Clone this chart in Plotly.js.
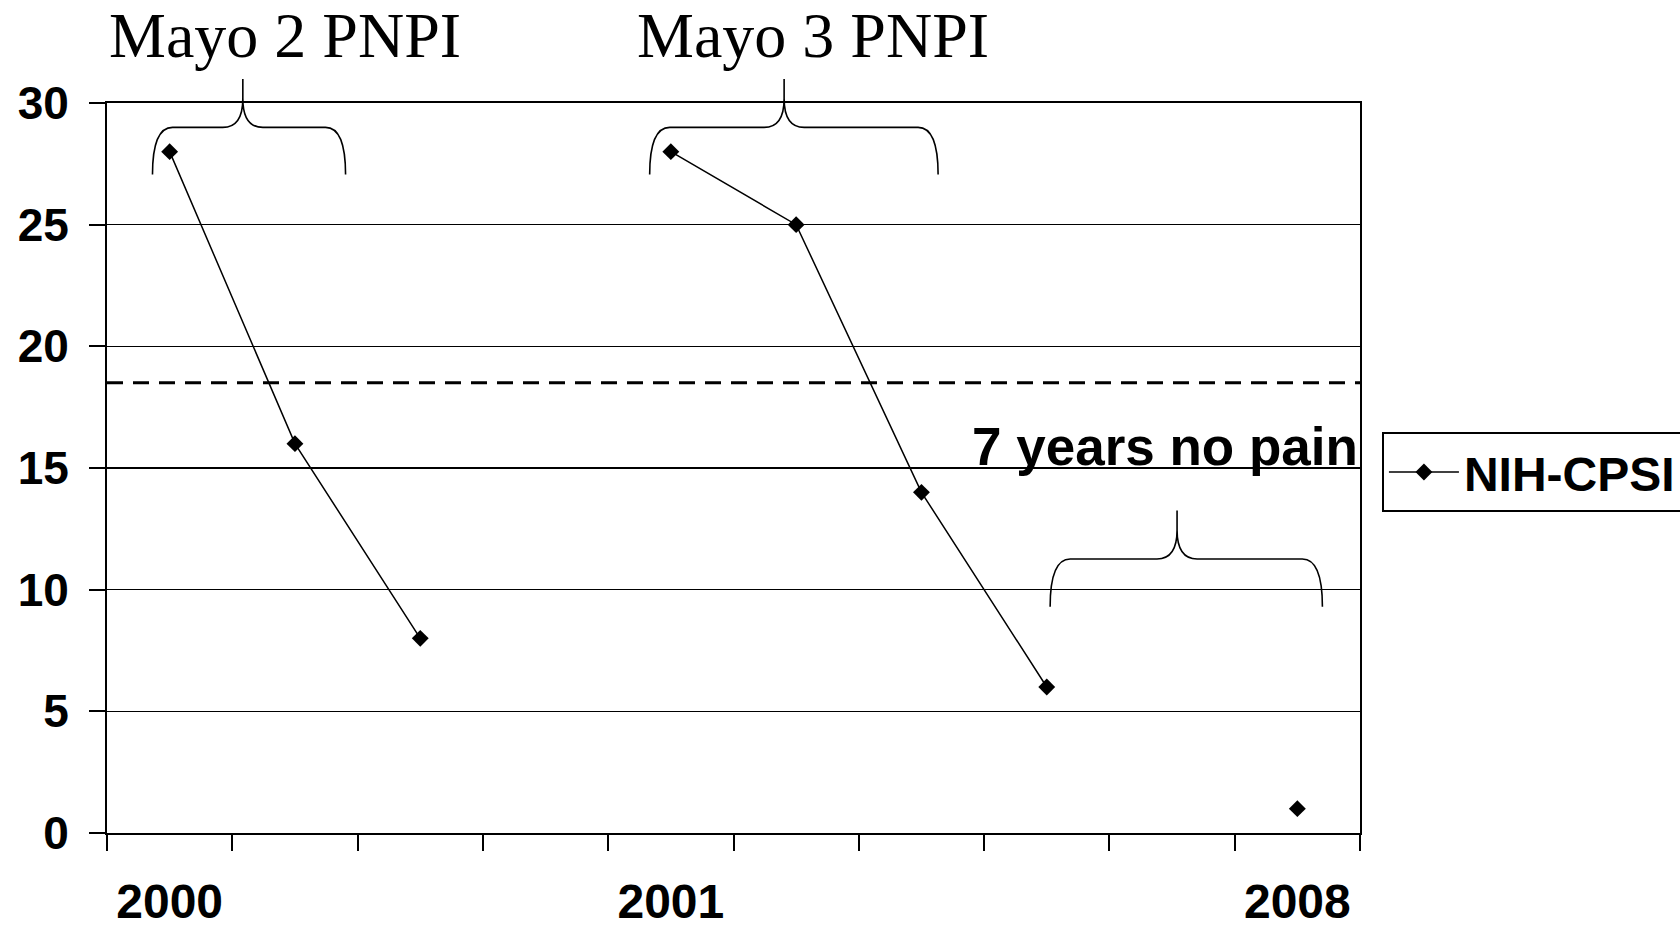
<!DOCTYPE html>
<html>
<head>
<meta charset="utf-8">
<script src="https://cdn.plot.ly/plotly-3.0.1.min.js"></script>
<style>html,body{margin:0;padding:0;background:#fff;}#chart{width:1680px;height:927px;}</style>
</head>
<body>
<div id="chart"></div>
<script>
// ---- data ----
const timepoints = [1, 2, 3, 4, 5, 6, 7, 8, 9, 10];
const nihCpsi = [28, 16, 8, null, 28, 25, 14, 6, null, 1];
const yearTickPositions = [1, 5, 10];
const yearTickLabels = ['2000', '2001', '2008'];
const seriesName = 'NIH-CPSI';
const painThreshold = 18.5;
const mayoLabels = ['Mayo 2 PNPI', 'Mayo 3 PNPI'];
const noPainLabel = '7 years no pain';

// ---- decoration layout (braces: x in axis units, y in axis units) ----
const yMax = 30;
const braces = [
  {left: 0.863, right: 2.404, tip: 1.584, bottom: 27.06, bar: 29.0, top: 30.99},
  {left: 4.831, right: 7.133, tip: 5.904, bottom: 27.06, bar: 29.0, top: 30.99},
  {left: 8.027, right: 10.2, tip: 9.04, bottom: 9.3, bar: 11.26, top: 13.25}
];
const cornerDx = 0.16, stem = 0.8;

function py(v) { return v / yMax; }   // axis value -> paper fraction (domain 0..1, range 0..yMax)

function bracePath(b) {
  const sb = b.top - stem;
  return 'M' + b.left + ',' + py(b.bottom) +
    ' Q' + b.left + ',' + py(b.bar) + ' ' + (b.left + cornerDx) + ',' + py(b.bar) +
    ' L' + (b.tip - cornerDx) + ',' + py(b.bar) +
    ' Q' + b.tip + ',' + py(b.bar) + ' ' + b.tip + ',' + py(sb) +
    ' L' + b.tip + ',' + py(b.top) +
    ' L' + b.tip + ',' + py(sb) +
    ' Q' + b.tip + ',' + py(b.bar) + ' ' + (b.tip + cornerDx) + ',' + py(b.bar) +
    ' L' + (b.right - cornerDx) + ',' + py(b.bar) +
    ' Q' + b.right + ',' + py(b.bar) + ' ' + b.right + ',' + py(b.bottom);
}

const boundaryTicks = timepoints.map(t => t - 0.5).concat([timepoints[timepoints.length - 1] + 0.5]);
const xRange = [boundaryTicks[0], boundaryTicks[boundaryTicks.length - 1]];

const sans = 'Liberation Sans, Arial, sans-serif';
const serif = 'Liberation Serif, Times New Roman, serif';

const traces = [
  {
    x: timepoints, y: nihCpsi, name: seriesName, type: 'scatter', mode: 'lines+markers',
    connectgaps: false,
    line: {color: '#000', width: 1.5},
    marker: {symbol: 'diamond', size: 13, color: '#000'},
    cliponaxis: false
  },
  {x: [], y: [], xaxis: 'x2', showlegend: false, hoverinfo: 'skip'}
];

const shapes = braces.map(b => ({
  type: 'path', xref: 'x', yref: 'paper', path: bracePath(b),
  line: {color: '#000', width: 1.6}, layer: 'above'
}));
shapes.push({
  type: 'line', xref: 'paper', yref: 'y', x0: 0, x1: 1, y0: painThreshold, y1: painThreshold,
  line: {color: '#000', width: 3, dash: '16px,10px'}, layer: 'above'
});

const annotations = [
  {text: mayoLabels[0], xref: 'x', yref: 'paper', x: 1.92, y: 1.093, showarrow: false,
   xanchor: 'center', yanchor: 'middle', font: {family: serif, size: 64, color: '#000'}},
  {text: mayoLabels[1], xref: 'x', yref: 'paper', x: 6.137, y: 1.093, showarrow: false,
   xanchor: 'center', yanchor: 'middle', font: {family: serif, size: 64, color: '#000'}},
  {text: noPainLabel, xref: 'paper', yref: 'paper', x: 1.0, y: 0.529, showarrow: false,
   xanchor: 'right', yanchor: 'middle', font: {family: sans, size: 53, color: '#000', weight: 'bold'}}
];

const layout = {
  width: 1680, height: 927,
  paper_bgcolor: '#fff', plot_bgcolor: '#fff',
  margin: {l: 107, r: 320, t: 103, b: 94, autoexpand: false},
  showlegend: true,
  legend: {
    x: 1.0175, y: 0.549, xanchor: 'left', yanchor: 'top',
    bordercolor: '#000', borderwidth: 2, bgcolor: '#fff',
    itemwidth: 70,
    font: {family: sans, size: 48, color: '#000', weight: 'bold'}
  },
  xaxis: {
    range: xRange, showgrid: false, zeroline: false,
    tickmode: 'array', tickvals: yearTickPositions, ticktext: yearTickLabels,
    ticks: '', ticklabelstandoff: 25,
    tickfont: {family: sans, size: 48, color: '#000', weight: 'bold'},
    showline: true, linecolor: '#000', linewidth: 2, mirror: true
  },
  xaxis2: {
    overlaying: 'x', anchor: 'y', side: 'bottom', range: xRange,
    tickmode: 'array', tickvals: boundaryTicks, showticklabels: false,
    ticks: 'outside', ticklen: 17, tickwidth: 2, tickcolor: '#000',
    showgrid: false, zeroline: false, showline: false
  },
  yaxis: {
    range: [0, yMax], dtick: 5, tick0: 0,
    ticks: 'outside', ticklen: 16, tickwidth: 2, tickcolor: '#000',
    ticklabelstandoff: 11,
    tickfont: {family: sans, size: 46, color: '#000', weight: 'bold'},
    showgrid: true, gridcolor: '#000', gridwidth: 1.3,
    zeroline: false, showline: true, linecolor: '#000', linewidth: 2, mirror: true
  },
  shapes: shapes,
  annotations: annotations
};

Plotly.newPlot('chart', traces, layout, {displayModeBar: false, staticPlot: true});
</script>
</body>
</html>
